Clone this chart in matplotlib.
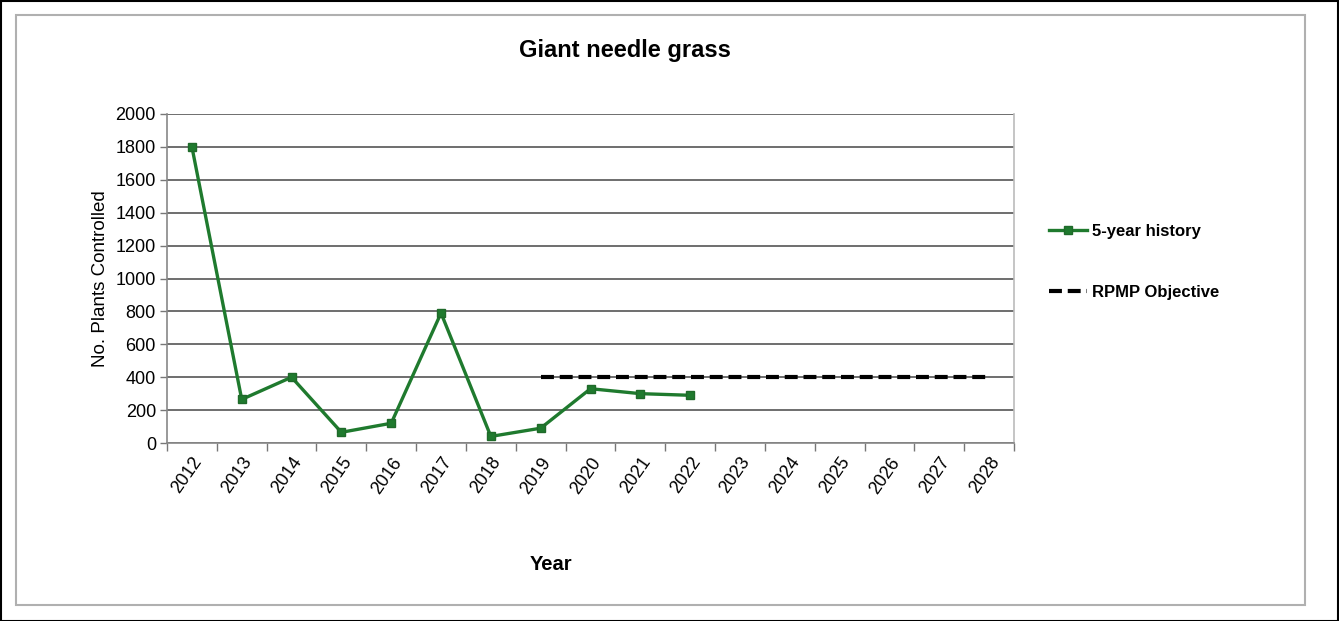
import matplotlib
matplotlib.use("Agg")
import matplotlib.pyplot as plt
from matplotlib.patches import Rectangle

plt.rcParams['font.family'] = ['Liberation Sans', 'DejaVu Sans']

years = [str(y) for y in range(2012, 2029)]
history_years = ['2012', '2013', '2014', '2015', '2016', '2017', '2018', '2019', '2020', '2021', '2022']
history_values = [1800, 265, 400, 65, 120, 790, 40, 90, 330, 300, 290]
objective_years = [str(y) for y in range(2019, 2029)]
objective_values = [400] * len(objective_years)
yticks = list(range(0, 2001, 200))

W, H = 1339, 621
fig = plt.figure(figsize=(W / 100, H / 100), dpi=100)
fig.patch.set_facecolor('white')

# outer black frame and inner gray frame
fig.add_artist(Rectangle((0.5 / W, 0.5 / H), 1 - 1.5 / W, 1 - 1.5 / H, transform=fig.transFigure,
                         fill=False, edgecolor='black', linewidth=1.5))
fig.add_artist(Rectangle((16 / W, 1 - 605 / H), (1305 - 16) / W, (605 - 15) / H, transform=fig.transFigure,
                         fill=False, edgecolor='#b0b0b0', linewidth=1.5))

left, right, top, bottom = 167, 1014, 114, 443
ax = fig.add_axes([left / W, 1 - bottom / H, (right - left) / W, (bottom - top) / H])

idx = {y: i for i, y in enumerate(years)}
hx = [idx[y] for y in history_years]
ox = [idx[y] for y in objective_years]

ax.plot(hx, history_values, color='#1f7a2e', linewidth=2.4, marker='s', markersize=5.5,
        markerfacecolor='#1f7a2e', markeredgecolor='#1f6a2a', label='5-year history', zorder=3)
ax.plot(ox, objective_values, color='black', linewidth=3, linestyle=(0, (3.1, 1.4)),
        label='RPMP Objective', zorder=3)

ax.set_xlim(-0.5, len(years) - 0.5)
ax.set_ylim(0, 2000)
ax.set_yticks(yticks)
ax.set_yticklabels([str(v) for v in yticks], fontsize=13)
ax.yaxis.grid(True, color='#555555', linewidth=1.2)
ax.set_axisbelow(True)

# category labels centered, ticks at boundaries
ax.set_xticks(range(len(years)))
ax.set_xticklabels(years, rotation=55, ha='right', rotation_mode='anchor', fontsize=13)
ax.tick_params(axis='x', which='major', length=0, pad=8)
ax.set_xticks([i - 0.5 for i in range(len(years) + 1)], minor=True)
ax.tick_params(axis='x', which='minor', length=6, color='#777777', width=1)
ax.tick_params(axis='y', length=5, color='#777777', width=1, pad=3)

for s in ['left', 'bottom', 'right', 'top']:
    ax.spines[s].set_color('#888888')
    ax.spines[s].set_linewidth(1.2)
ax.spines['top'].set_visible(False)
ax.spines['right'].set_color('#bbbbbb')

ax.set_ylabel('No. Plants Controlled', fontsize=13.5, labelpad=5)
fig.text(551 / W, 1 - 564 / H, 'Year', fontsize=14.5, fontweight='bold', ha='center', va='center')
fig.text(625 / W, 1 - 50 / H, 'Giant needle grass', fontsize=17, fontweight='bold', ha='center', va='center')

leg = fig.legend(loc='upper left', bbox_to_anchor=(1034 / W, 1 - 209 / H), frameon=False,
                 prop={'weight': 'bold', 'size': 12}, labelspacing=2.75, handlelength=2.3,
                 handletextpad=0.3)

fig.savefig('out.png', dpi=100)
